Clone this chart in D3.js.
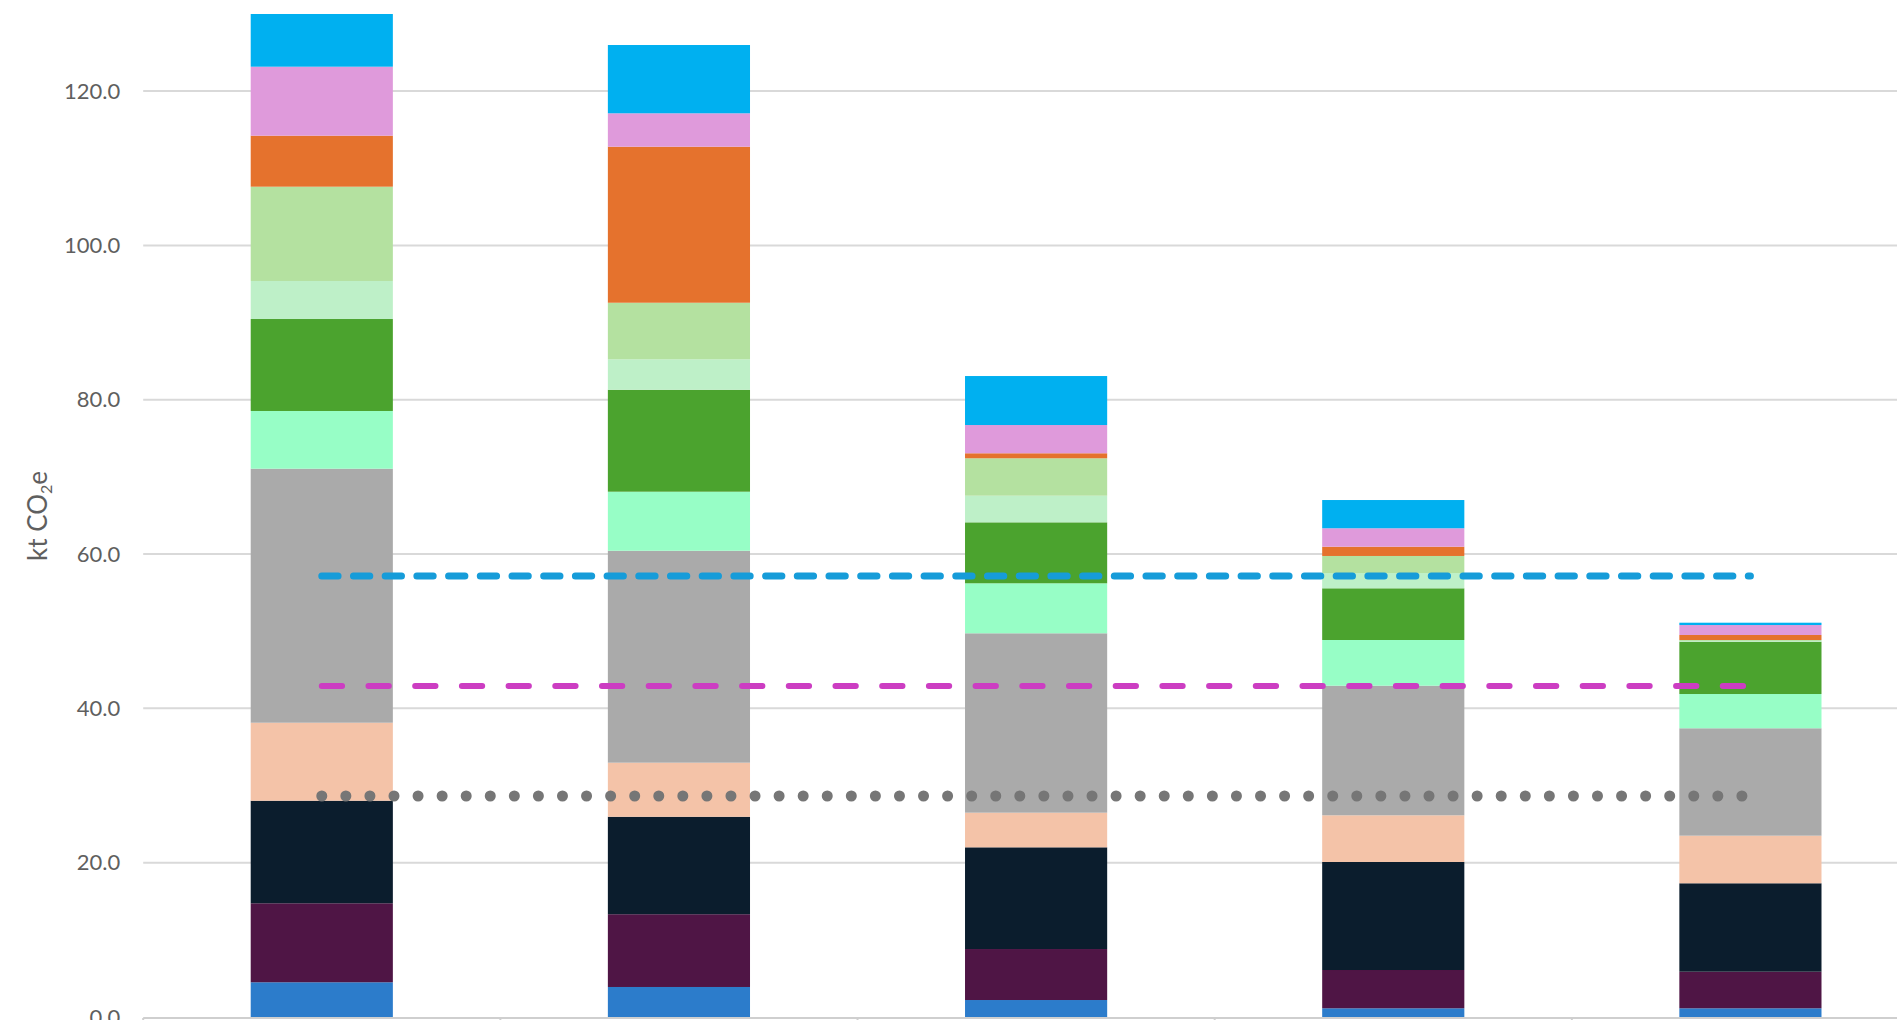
<!DOCTYPE html>
<html>
<head>
<meta charset="utf-8">
<script src="https://cdn.jsdelivr.net/npm/d3@7"></script>
<style>
  html, body { margin: 0; padding: 0; background: #fff; overflow: hidden; }
  svg { display: block; font-family: Lato, "Open Sans", sans-serif; }
</style>
</head>
<body>
<svg id="chart" width="1897" height="1020"></svg>
<script>
// ---------------- DATA ----------------
const categories = ["Scenario 1", "Scenario 2", "Scenario 3", "Scenario 4", "Scenario 5"];

const seriesNames = ["Series 1", "Series 2", "Series 3", "Series 4", "Series 5", "Series 6",
                     "Series 7", "Series 8", "Series 9", "Series 10", "Series 11", "Series 12"];

const series1  = [4.50, 3.89, 2.20, 1.13, 1.13];
const series2  = [10.24, 9.43, 6.61, 4.96, 4.74];
const series3  = [13.29, 12.63, 13.18, 14.00, 11.46];
const series4  = [10.11, 7.01, 4.49, 6.05, 6.17];
const series5  = [32.92, 27.47, 23.25, 16.80, 13.92];
const series6  = [7.48, 7.65, 6.48, 5.92, 4.44];
const series7  = [11.92, 13.21, 7.90, 6.70, 6.78];
const series8  = [4.93, 3.95, 3.45, 1.98, 0.10];
const series9  = [12.22, 7.33, 4.85, 2.21, 0.12];
const series10 = [6.61, 20.22, 0.65, 1.20, 0.65];
const series11 = [8.94, 4.33, 3.66, 2.39, 1.29];
const series12 = [6.83, 8.85, 6.35, 3.66, 0.30];

const lineNames = ["Target A", "Target B", "Target C"];
const lineA = [57.15, 57.15, 57.15, 57.15, 57.15];
const lineB = [42.90, 42.90, 42.90, 42.90, 42.90];
const lineC = [28.64, 28.64, 28.64, 28.64, 28.64];

const yTicks = [0, 20, 40, 60, 80, 100, 120];

// ---------------- STYLE ----------------
const barColors = ["#2C7CCB", "#4F1545", "#0B1D2D", "#F4C3A8", "#AAAAAA", "#97FEC6",
                   "#4BA32E", "#BEF0C8", "#B4E1A0", "#E5722D", "#DF9ADB", "#00B0F0"];
const lineStyles = [
  { color: "#169CD9", width: 7,  dash: "16.3 15.4" },
  { color: "#CC3DC2", width: 6,  dash: "20.3 26.4" },
  { color: "#767676", width: 11, dash: "0 24.07" }
];

// ---------------- LAYOUT ----------------
const W = 1897, H = 1020;
const plotLeft = 143.2, plotRight = 1929;
const y0px = 1017, pxPerUnit = 7.716;

const svg = d3.select("#chart");

const x = d3.scaleBand().domain(categories).range([plotLeft, plotRight]).padding(0);
const barW = x.bandwidth() * 0.398;
const y = d3.scaleLinear().domain([0, 140]).range([y0px, y0px - 140 * pxPerUnit]);

// gridlines
svg.append("g").selectAll("line.grid")
  .data(yTicks.filter(d => d > 0))
  .join("line")
  .attr("x1", plotLeft).attr("x2", W)
  .attr("y1", d => y(d)).attr("y2", d => y(d))
  .attr("stroke", "#D9D9D9").attr("stroke-width", 2);

// y axis labels
const yAxis = d3.axisLeft(y).tickValues(yTicks).tickFormat(d3.format(".1f"))
  .tickSize(0).tickPadding(23);
const gy = svg.append("g").attr("transform", `translate(${plotLeft},0)`).call(yAxis);
gy.select(".domain").remove();
gy.selectAll("text").attr("fill", "#5F5F5F").style("font-size", "22px")
  .style("font-family", "Lato, 'Open Sans', sans-serif");

// y axis title
const yt = svg.append("text")
  .attr("transform", `translate(47, 516) rotate(-90)`)
  .attr("text-anchor", "middle")
  .attr("fill", "#5F5F5F")
  .style("font-size", "26px");
yt.append("tspan").text("kt CO");
yt.append("tspan").text("2").style("font-size", "16px").attr("dy", 5);
yt.append("tspan").text("e").attr("dy", -5);

// stacked bars
const table = categories.map((c, i) => {
  const row = { category: c };
  const all = [series1, series2, series3, series4, series5, series6,
               series7, series8, series9, series10, series11, series12];
  seriesNames.forEach((s, k) => row[s] = all[k][i]);
  return row;
});
const stacked = d3.stack().keys(seriesNames)(table);

svg.append("g").selectAll("g")
  .data(stacked)
  .join("g")
  .attr("fill", (d, i) => barColors[i])
  .selectAll("rect")
  .data(d => d)
  .join("rect")
  .attr("x", d => x(d.data.category) + x.bandwidth() / 2 - barW / 2)
  .attr("width", barW)
  .attr("y", d => y(d[1]))
  .attr("height", d => Math.max(0, y(d[0]) - y(d[1])));

// x axis line and ticks at category boundaries
const gx = svg.append("g");
gx.append("line")
  .attr("x1", plotLeft).attr("x2", W)
  .attr("y1", y(0) + 1).attr("y2", y(0) + 1)
  .attr("stroke", "#CFCFCF").attr("stroke-width", 2);
gx.selectAll("line.tick")
  .data(categories)
  .join("line")
  .attr("x1", d => x(d)).attr("x2", d => x(d))
  .attr("y1", y(0) + 1).attr("y2", H)
  .attr("stroke", "#CFCFCF").attr("stroke-width", 2);

// reference lines
const lines = [lineA, lineB, lineC];
const lineGen = d3.line()
  .x((d, i) => x(categories[i]) + x.bandwidth() / 2)
  .y(d => y(d));
svg.append("g").selectAll("path")
  .data(lines)
  .join("path")
  .attr("d", d => lineGen(d))
  .attr("fill", "none")
  .attr("stroke", (d, i) => lineStyles[i].color)
  .attr("stroke-width", (d, i) => lineStyles[i].width)
  .attr("stroke-dasharray", (d, i) => lineStyles[i].dash)
  .attr("stroke-linecap", "round");
</script>
</body>
</html>
